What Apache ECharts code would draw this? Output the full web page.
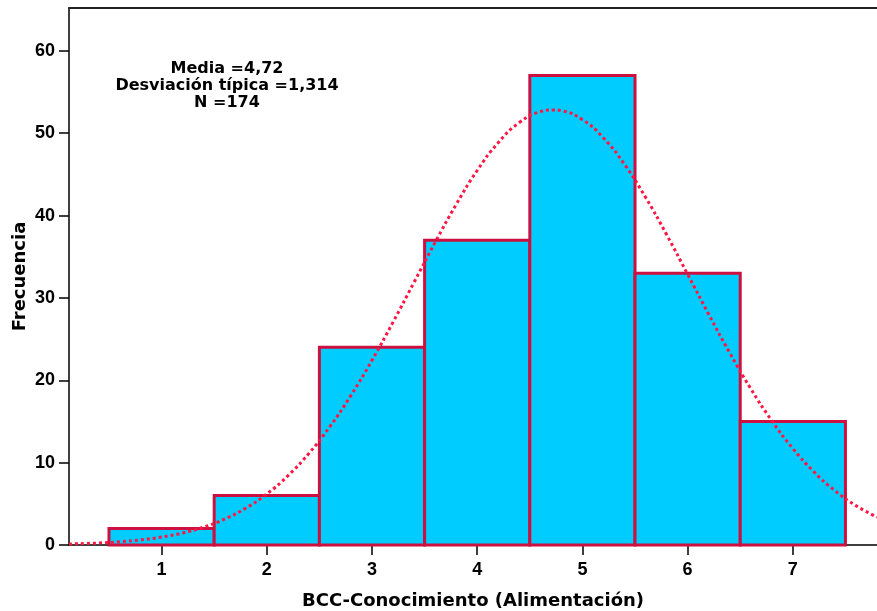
<!DOCTYPE html>
<html><head><meta charset="utf-8">
<script src="https://cdn.jsdelivr.net/npm/echarts@6/dist/echarts.min.js"></script>
<style>html,body{margin:0;padding:0;background:#fff}#c{width:877px;height:611px}</style>
</head><body><div id="c"></div>
<script>
const categories = [1, 2, 3, 4, 5, 6, 7];
const frequencies = [2, 6, 24, 37, 57, 33, 15];
const yTicks = [0, 10, 20, 30, 40, 50, 60];
const statsLines = ['Media =4,72', 'Desviación típica =1,314', 'N =174'];
const curveX = [0.12,0.4,0.6,0.8,1.0,1.2,1.4,1.6,1.8,2.0,2.2,2.4,2.6,2.8,3.0,3.2,3.4,3.6,3.8,4.0,4.2,4.4,4.6,4.72,4.8,5.0,5.2,5.4,5.6,5.8,6.0,6.2,6.4,6.6,6.8,7.0,7.2,7.4,7.6,7.8];
const curveY = [0.12,0.24,0.39,0.62,0.96,1.46,2.17,3.15,4.47,6.20,8.40,11.12,14.38,18.17,22.43,27.06,31.90,36.74,41.34,45.47,48.85,51.29,52.61,52.83,52.73,51.64,49.42,46.21,42.22,37.69,32.87,28.02,23.33,18.98,15.09,11.72,8.90,6.60,4.78,3.39];

const tickFont = '"Liberation Sans", Arial, sans-serif';
const titleFont = '"DejaVu Sans", sans-serif';
const chart = echarts.init(document.getElementById('c'));
chart.setOption({
  animation: false,
  grid: { left: 69, top: 8, right: 0, bottom: 66, containLabel: false, outerBoundsMode: 'none' },
  xAxis: [{
    type: 'value', min: 0.12, max: 7.8,
    axisLine: { show: true, lineStyle: { color: '#000', width: 1.5 } },
    axisTick: { show: true, length: 10, lineStyle: { color: '#000', width: 1.5 }, customValues: categories },
    axisLabel: { color: '#000', fontFamily: tickFont, fontWeight: 'bold', fontSize: 18, margin: 16, customValues: categories },
    splitLine: { show: false },
    name: 'BCC-Conocimiento (Alimentación)', nameLocation: 'middle', nameGap: 47,
    nameTextStyle: { color: '#000', fontFamily: titleFont, fontWeight: 'bold', fontSize: 18 }
  }, {
    type: 'value', position: 'top', min: 0.12, max: 7.8,
    axisLine: { show: true, lineStyle: { color: '#222', width: 2 } },
    axisTick: { show: false }, axisLabel: { show: false }, splitLine: { show: false }
  }],
  yAxis: {
    type: 'value', min: 0, max: 65.2,
    axisLine: { show: true, lineStyle: { color: '#000', width: 1.5 } },
    axisTick: { show: true, length: 10, lineStyle: { color: '#000', width: 1.5 }, customValues: yTicks },
    axisLabel: { color: '#000', fontFamily: tickFont, fontWeight: 'bold', fontSize: 18, margin: 14, customValues: yTicks },
    splitLine: { show: false },
    name: 'Frecuencia', nameLocation: 'middle', nameGap: 40, nameRotate: 90, nameMoveOverlap: false,
    nameTextStyle: { color: '#000', fontFamily: titleFont, fontWeight: 'bold', fontSize: 18 }
  },
  graphic: [{
    type: 'text', x: 227, y: 60,
    style: { text: statsLines.join('\n'), align: 'center', verticalAlign: 'top', fill: '#000',
      font: 'bold 16px ' + titleFont, lineHeight: 17 }
  }],
  series: [{
    type: 'custom',
    data: categories.map((c, i) => [c, frequencies[i]]),
    renderItem: function (params, api) {
      const c = api.value(0), v = api.value(1);
      const p0 = api.coord([c - 0.5, 0]);
      const p1 = api.coord([c + 0.5, v]);
      return { type: 'rect', shape: { x: p0[0], y: p1[1], width: p1[0] - p0[0], height: p0[1] - p1[1] },
        style: { fill: '#00CCFF', stroke: '#CC1040', lineWidth: 3 } };
    },
    z: 2
  }, {
    type: 'line', smooth: true, symbol: 'none',
    data: curveX.map((x, i) => [x, curveY[i]]),
    lineStyle: { color: '#FF1744', width: 3, type: [3, 3] },
    z: 3
  }]
});
</script></body></html>
